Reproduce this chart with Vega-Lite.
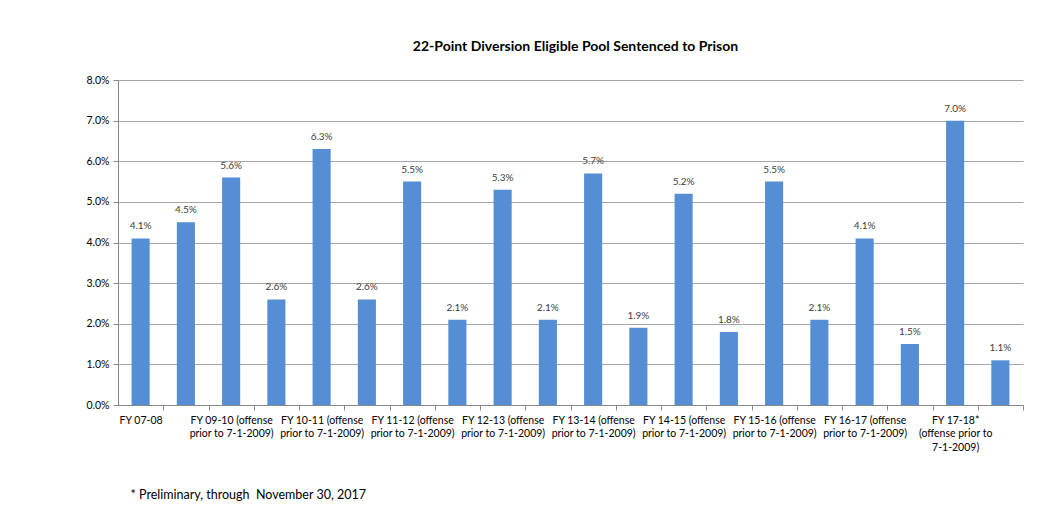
{
  "$schema": "https://vega.github.io/schema/vega-lite/v6.json",
  "width": 905,
  "height": 325,
  "autosize": {"type": "none"},
  "padding": {"left": 118, "top": 80, "right": 40, "bottom": 103},
  "background": "white",
  "title": {
    "text": "22-Point Diversion Eligible Pool Sentenced to Prison",
    "font": "Lato",
    "fontSize": 14,
    "fontWeight": "bold",
    "color": "#000000",
    "anchor": "middle",
    "dx": 5,
    "offset": 21
  },
  "data": {
    "values": [
      {"cat": "FY 07-08", "rate": 0.041},
      {"cat": "FY 08-09", "rate": 0.045},
      {"cat": "FY 09-10 (offense prior to 7-1-2009)", "rate": 0.056},
      {"cat": "FY 09-10 (offense on or after 7-1-2009)", "rate": 0.026},
      {"cat": "FY 10-11 (offense prior to 7-1-2009)", "rate": 0.063},
      {"cat": "FY 10-11 (offense on or after 7-1-2009)", "rate": 0.026},
      {"cat": "FY 11-12 (offense prior to 7-1-2009)", "rate": 0.055},
      {"cat": "FY 11-12 (offense on or after 7-1-2009)", "rate": 0.021},
      {"cat": "FY 12-13 (offense prior to 7-1-2009)", "rate": 0.053},
      {"cat": "FY 12-13 (offense on or after 7-1-2009)", "rate": 0.021},
      {"cat": "FY 13-14 (offense prior to 7-1-2009)", "rate": 0.057},
      {"cat": "FY 13-14 (offense on or after 7-1-2009)", "rate": 0.019},
      {"cat": "FY 14-15 (offense prior to 7-1-2009)", "rate": 0.052},
      {"cat": "FY 14-15 (offense on or after 7-1-2009)", "rate": 0.018},
      {"cat": "FY 15-16 (offense prior to 7-1-2009)", "rate": 0.055},
      {"cat": "FY 15-16 (offense on or after 7-1-2009)", "rate": 0.021},
      {"cat": "FY 16-17 (offense prior to 7-1-2009)", "rate": 0.041},
      {"cat": "FY 16-17 (offense on or after 7-1-2009)", "rate": 0.015},
      {"cat": "FY 17-18* (offense prior to 7-1-2009)", "rate": 0.070},
      {"cat": "FY 17-18* (offense on or after 7-1-2009)", "rate": 0.011}
    ]
  },
  "encoding": {
    "x": {
      "field": "cat",
      "type": "nominal",
      "sort": null,
      "scale": {"paddingInner": 0.6, "paddingOuter": 0.3},
      "axis": {
        "title": "* Preliminary, through\u00a0 November 30, 2017",
        "titleFont": "Lato",
        "titleFontSize": 12.5,
        "titleFontWeight": "normal",
        "titleColor": "#000000",
        "titleAnchor": "start",
        "titlePadding": 36,
        "titleX": 12,
        "labelAngle": 0,
        "labelFont": "Lato",
        "labelFontSize": 10.5,
        "labelColor": "#000000",
        "labelLineHeight": 13.5,
        "labelPadding": 5,
        "labelOverlap": false,
        "labelLimit": 0,
        "tickOffset": 22.625,
        "labelOffset": -22.625,
        "tickSize": 5,
        "tickColor": "#888888",
        "domainColor": "#888888",
        "grid": false,
        "labelExpr": "indexof(datum.value,'after')>=0 || datum.value=='FY 08-09' ? '' : datum.value=='FY 17-18* (offense prior to 7-1-2009)' ? ['FY 17-18*','(offense prior to','7-1-2009)'] : indexof(datum.value,' prior')>=0 ? [replace(datum.value,' prior to 7-1-2009)',''), 'prior to 7-1-2009)'] : datum.value"
      }
    },
    "y": {
      "field": "rate",
      "type": "quantitative",
      "scale": {"domain": [0, 0.08], "nice": false},
      "axis": {
        "title": null,
        "format": ".1%",
        "values": [0, 0.01, 0.02, 0.03, 0.04, 0.05, 0.06, 0.07, 0.08],
        "labelFont": "Lato",
        "labelFontSize": 10.5,
        "labelColor": "#000000",
        "labelPadding": 4,
        "tickSize": 5,
        "tickColor": "#888888",
        "domainColor": "#888888",
        "grid": true,
        "gridColor": "#a6a6a6",
        "gridWidth": 1
      }
    }
  },
  "layer": [
    {"mark": {"type": "bar", "color": "#558ED5"}},
    {
      "mark": {"type": "text", "dy": -7, "font": "Lato", "fontSize": 10, "color": "#404040", "baseline": "bottom"},
      "encoding": {"text": {"field": "rate", "type": "quantitative", "format": ".1%"}}
    }
  ],
  "config": {"view": {"stroke": null}}
}
